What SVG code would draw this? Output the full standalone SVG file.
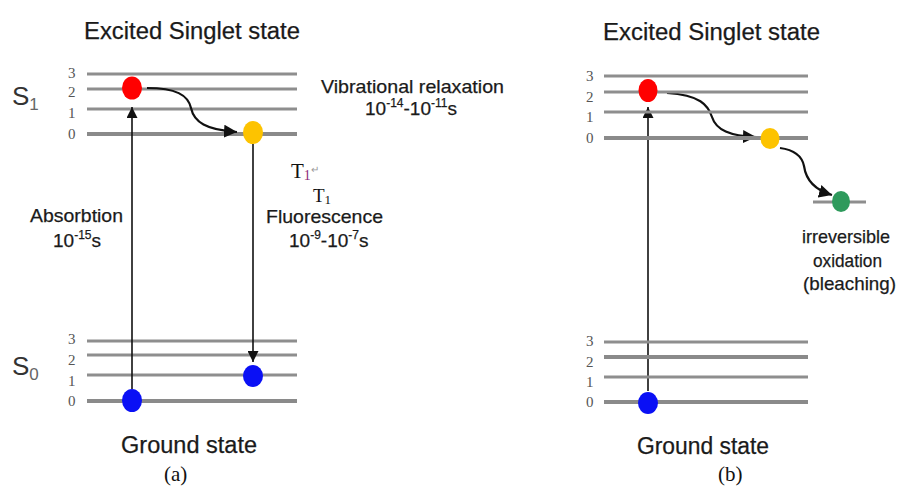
<svg xmlns="http://www.w3.org/2000/svg" width="898" height="490" viewBox="0 0 898 490">
<defs>
<style>
.lv{stroke:#8e8e8e;stroke-width:3;fill:none}
.lv0{stroke:#8a8a8a;stroke-width:4;fill:none}
.num{font-family:"Liberation Serif","Times New Roman",serif;font-size:15px;fill:#555}
.t{font-family:"Liberation Sans",Arial,sans-serif;fill:#1a1a1a;stroke:#1a1a1a;stroke-width:0.25}
.big{font-size:23px}
.mid{font-size:19px}
.sup{font-size:12px}
.st{font-family:"Liberation Sans",Arial,sans-serif;font-size:26px;fill:#333}
.sub{font-size:17px;fill:#666}
.ser{font-family:"Liberation Serif","Times New Roman",serif;fill:#111}
.arr{stroke:#111;stroke-width:1.6;fill:none;marker-end:url(#ah)}
.cur{stroke:#111;stroke-width:2.2;fill:none;marker-end:url(#ah2)}
</style>
<marker id="ah" viewBox="0 0 10 10" refX="10" refY="5" markerWidth="11" markerHeight="11" markerUnits="userSpaceOnUse" orient="auto">
<path d="M0,0 L10,5 L0,10 z" fill="#111"/>
</marker>
<marker id="ah2" viewBox="0 0 10 10" refX="10" refY="5" markerWidth="13" markerHeight="13" markerUnits="userSpaceOnUse" orient="auto">
<path d="M0,0 L10,5 L0,10 z" fill="#111"/>
</marker>
</defs>
<rect width="898" height="490" fill="#fff"/>

<!-- Panel (a) -->
<g id="a-title"><text class="t big" x="84" y="39" textLength="216" lengthAdjust="spacingAndGlyphs">Excited Singlet state</text></g>
<g id="a-S1-levels">
<line class="lv" x1="87" y1="74" x2="297" y2="74"/>
<line class="lv" x1="87" y1="89" x2="297" y2="89"/>
<line class="lv" x1="87" y1="109" x2="297" y2="109"/>
<line class="lv0" x1="87" y1="134" x2="297" y2="134"/>
<text class="num" x="68" y="78">3</text>
<text class="num" x="68" y="97">2</text>
<text class="num" x="68" y="118">1</text>
<text class="num" x="68" y="139">0</text>
<text class="st" x="12" y="105">S<tspan class="sub" dy="5">1</tspan></text>
</g>
<g id="a-S0-levels">
<line class="lv" x1="87" y1="341" x2="297" y2="341"/>
<line class="lv" x1="87" y1="355" x2="297" y2="355"/>
<line class="lv" x1="87" y1="375" x2="297" y2="375"/>
<line class="lv0" x1="87" y1="401" x2="297" y2="401"/>
<text class="num" x="68" y="344">3</text>
<text class="num" x="68" y="365">2</text>
<text class="num" x="68" y="386">1</text>
<text class="num" x="68" y="406">0</text>
<text class="st" x="12" y="375">S<tspan class="sub" dy="5">0</tspan></text>
</g>

<g id="connectors">
<line class="arr" x1="132" y1="389" x2="132" y2="107"/>
<line class="arr" x1="253" y1="144" x2="253" y2="362"/>
<path class="cur" d="M147,88 C176,88 188,95 191,108 C194,122 206,130 237,132"/>
<line class="arr" x1="648" y1="391" x2="648" y2="107"/>
<path class="cur" d="M667,93 C700,95 708,105 712,117 C716,130 730,136 756,137"/>
<path class="cur" d="M780,148 C795,150 802,156 804,166 C806,180 815,190 832,195"/>
</g>

<g id="a-red"><ellipse cx="132" cy="88" rx="10" ry="11.5" fill="#ff0000"/></g>
<g id="a-yellow"><ellipse cx="253" cy="132.5" rx="10" ry="11.5" fill="#fdc300"/></g>
<g id="a-blue0"><ellipse cx="132" cy="400.5" rx="10" ry="11.5" fill="#0a10f5"/></g>
<g id="a-blue1"><ellipse cx="253" cy="376" rx="10" ry="11" fill="#0a10f5"/></g>

<g id="a-vib"><text class="t mid" x="321" y="93" textLength="183" lengthAdjust="spacingAndGlyphs">Vibrational relaxation</text>
<text class="t mid" x="365" y="115">10<tspan class="sup" dy="-8">-14</tspan><tspan dy="8">-10</tspan><tspan class="sup" dy="-8">-11</tspan><tspan dy="8">s</tspan></text></g>
<g id="a-abs"><text class="t mid" x="30" y="222" textLength="93" lengthAdjust="spacingAndGlyphs">Absorbtion</text>
<text class="t mid" x="53" y="247">10<tspan class="sup" dy="-8">-15</tspan><tspan dy="8">s</tspan></text></g>
<g id="a-t1">
<text class="ser" x="291" y="178" style="font-size:21px">T<tspan style="font-size:14px" fill="#8b2a7a" dy="2">1</tspan><tspan style="font-size:10px" fill="#999" dy="-7">↵</tspan></text>
<text class="ser" x="313" y="202" style="font-size:19px">T<tspan style="font-size:13px" dy="2">1</tspan></text>
</g>
<g id="a-fluo"><text class="t mid" x="266" y="223" textLength="117" lengthAdjust="spacingAndGlyphs">Fluorescence</text>
<text class="t mid" x="289" y="247">10<tspan class="sup" dy="-8">-9</tspan><tspan dy="8">-10</tspan><tspan class="sup" dy="-8">-7</tspan><tspan dy="8">s</tspan></text></g>
<g id="a-ground"><text class="t big" x="121" y="453" textLength="136" lengthAdjust="spacingAndGlyphs">Ground state</text>
<text class="ser" x="164" y="481" style="font-size:21px">(a)</text></g>

<!-- Panel (b) -->
<g id="b-title"><text class="t big" x="603" y="40" textLength="217" lengthAdjust="spacingAndGlyphs">Excited Singlet state</text></g>
<g id="b-S1-levels">
<line class="lv" x1="604" y1="76" x2="808" y2="76"/>
<line class="lv" x1="604" y1="92" x2="808" y2="92"/>
<line class="lv" x1="604" y1="112" x2="808" y2="112"/>
<line class="lv0" x1="604" y1="138" x2="808" y2="138"/>
<text class="num" x="586" y="81">3</text>
<text class="num" x="586" y="102">2</text>
<text class="num" x="586" y="122">1</text>
<text class="num" x="586" y="143">0</text>
</g>
<g id="b-S0-levels">
<line class="lv" x1="604" y1="342" x2="808" y2="342"/>
<line class="lv0" x1="604" y1="357" x2="808" y2="357"/>
<line class="lv" x1="604" y1="377" x2="808" y2="377"/>
<line class="lv0" x1="604" y1="402" x2="808" y2="402"/>
<text class="num" x="586" y="346">3</text>
<text class="num" x="586" y="367">2</text>
<text class="num" x="586" y="387">1</text>
<text class="num" x="586" y="407">0</text>
</g>
<g id="b-red"><ellipse cx="648" cy="90.5" rx="9.5" ry="11.5" fill="#ff0000"/></g>
<g id="b-yellow"><ellipse cx="770" cy="138.5" rx="9.5" ry="10.5" fill="#fdc300"/></g>
<g id="b-blue0"><ellipse cx="648" cy="403" rx="10" ry="11" fill="#0a10f5"/></g>
<g id="b-green"><line class="lv" x1="813" y1="202" x2="866" y2="202"/><ellipse cx="841" cy="201.5" rx="9" ry="10.5" fill="#2e9a5c"/></g>
<g id="b-bleach">
<text class="t mid" x="802" y="243" textLength="88" lengthAdjust="spacingAndGlyphs">irreversible</text>
<text class="t mid" x="813" y="267" textLength="69" lengthAdjust="spacingAndGlyphs">oxidation</text>
<text class="t mid" x="803" y="290" textLength="93" lengthAdjust="spacingAndGlyphs">(bleaching)</text>
</g>
<g id="b-ground"><text class="t big" x="637" y="454" textLength="132" lengthAdjust="spacingAndGlyphs">Ground state</text>
<text class="ser" x="718" y="481" style="font-size:21px">(b)</text></g>
</svg>
